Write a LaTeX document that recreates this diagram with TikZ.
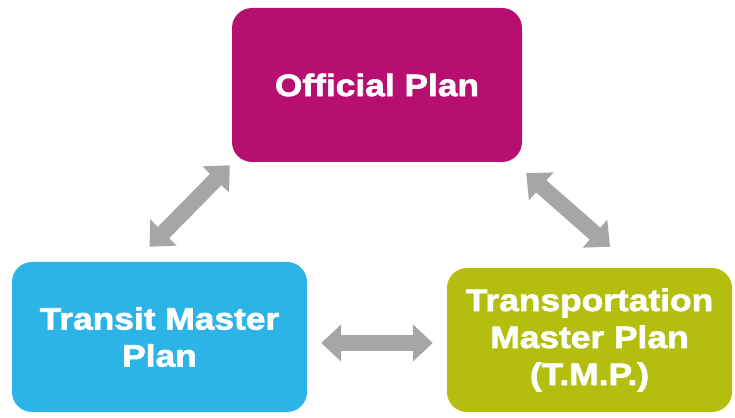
\documentclass[tikz,border=0pt]{standalone}
\usepackage{fontspec}
\newfontfamily\planfont{Liberation Sans Bold}[FakeStretch=1.14,FakeBold=2]
\usetikzlibrary{arrows.meta}
\definecolor{planmagenta}{RGB}{182,14,113}
\definecolor{planblue}{RGB}{45,180,230}
\definecolor{planolive}{RGB}{180,190,14}
\definecolor{linkgray}{RGB}{166,166,166}
\tikzset{
	plan/.append style={
		rounded corners=20pt,
		align=center,
		text=white,
		font={\planfont\fontsize{31}{37}\selectfont},
	},
	link/.append style={
		draw=linkgray,
		line width=16pt,
		{Triangle[width=36pt,length=20pt]}-{Triangle[width=36pt,length=20pt]},
	},
}

\begin{document}
\begin{tikzpicture}[x=1pt, y=1pt]
\useasboundingbox (0,0) rectangle (735,417);

% the three plans
\node(official)[plan, fill=planmagenta, minimum width=290pt, minimum height=154pt] at (377,332) {Official Plan};
\node(transit)[plan, fill=planblue, minimum width=295pt, minimum height=150pt] at (159.5,80) {Transit Master\\Plan};
\node(tmp)[plan, fill=planolive, minimum width=285pt, minimum height=144pt] at (589.5,77) {Transportation\\Master Plan\\(T.M.P.)};

% links between them
\draw[link] ([shift={(-2,-3)}]official.south west) -- ([shift={(-10,15)}]transit.north);
\draw[link] ([shift={(4,-11)}]official.south east) -- ([shift={(20.5,21)}]tmp.north);
\draw[link] ([shift={(14,-6)}]transit.east) -- ([shift={(-14,-3)}]tmp.west);

\end{tikzpicture}
\end{document}
